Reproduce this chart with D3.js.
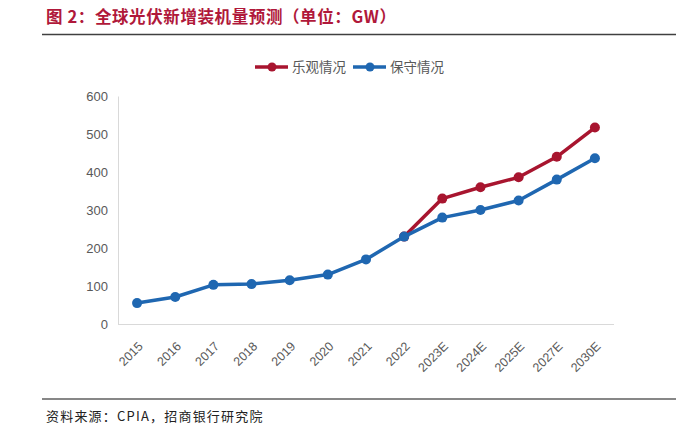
<!DOCTYPE html>
<html>
<head>
<meta charset="utf-8">
<script src="https://cdn.jsdelivr.net/npm/d3@7"></script>
<style>
  body { margin: 0; background: #fff; }
  svg { display: block; font-family: "Liberation Sans", Arial, sans-serif; }
</style>
</head>
<body>
<div id="chart"></div>
<script>
var w = 678;
var h = 430;

// chart data
var years = ['2015', '2016', '2017', '2018', '2019', '2020', '2021', '2022',
  '2023E', '2024E', '2025E', '2027E', '2030E'];
var conservative = [55, 71, 103, 105, 115, 130, 170, 230, 280, 300, 325, 380, 436];
var optimistic = [null, null, null, null, null, null, null, 230, 330, 360, 386, 440, 517];
var yTicks = [0, 100, 200, 300, 400, 500, 600];
var seriesNames = ['乐观情况', '保守情况'];

var red = '#a8152f';
var blue = '#1f67b1';
var cjk = '"Noto Sans CJK SC", "Noto Sans", sans-serif';

var svg = d3.select('#chart')
  .append('svg')
    .attr('width', w)
    .attr('height', h);

// title + rules
svg.append('text')
  .attr('x', 46)
  .attr('y', 23)
  .style('font-family', cjk)
  .style('font-size', '16.5px')
  .style('font-weight', 'bold')
  .style('letter-spacing', '0.6px')
  .style('fill', '#b0183a')
  .text('图 2：全球光伏新增装机量预测（单位：GW）');

svg.append('line')
  .attr('x1', 42).attr('x2', 676)
  .attr('y1', 34.5).attr('y2', 34.5)
  .style('stroke', '#404040')
  .style('stroke-width', 1.5);

svg.append('line')
  .attr('x1', 42).attr('x2', 676)
  .attr('y1', 399).attr('y2', 399)
  .style('stroke', '#111')
  .style('stroke-width', 1.2);

svg.append('text')
  .attr('x', 46)
  .attr('y', 421)
  .style('font-family', cjk)
  .style('font-size', '13px')
  .style('letter-spacing', '1.2px')
  .style('fill', '#222')
  .text('资料来源：CPIA，招商银行研究院');

// scales
var x = d3.scalePoint()
  .domain(years)
  .range([118, 614])
  .padding(0.5);

var y = d3.scaleLinear()
  .domain([0, 600])
  .range([324, 96]);

var plot = svg.append('g');

// axes
var yAxis = plot.append('g')
  .attr('transform', 'translate(118,0)')
  .call(d3.axisLeft(y).tickValues(yTicks).tickSize(0).tickPadding(10));
yAxis.select('.domain').style('stroke', '#d9d9d9');
yAxis.selectAll('text')
  .style('font-size', '13px')
  .style('fill', '#595959');

var xAxis = plot.append('g')
  .attr('transform', 'translate(0,324)')
  .call(d3.axisBottom(x).tickSize(0).tickPadding(0));
xAxis.select('.domain').style('stroke', '#d9d9d9').attr('d', 'M118,0.5H614');
xAxis.selectAll('text')
  .attr('x', 0)
  .attr('y', 0)
  .attr('dy', '0.35em')
  .attr('text-anchor', 'end')
  .attr('transform', 'translate(3,20) rotate(-45)')
  .style('font-size', '12.5px')
  .style('fill', '#595959');

// lines
var line = d3.line()
  .defined(function(d) { return d != null; })
  .x(function(d, i) { return x(years[i]); })
  .y(function(d) { return y(d); });

function drawSeries(vals, color) {
  plot.append('path')
    .datum(vals)
    .attr('d', line)
    .style('fill', 'none')
    .style('stroke', color)
    .style('stroke-width', 3.5)
    .style('stroke-linejoin', 'round');
  plot.selectAll(null)
    .data(vals.map(function(v, i) { return { v: v, i: i }; })
      .filter(function(d) { return d.v != null; }))
    .enter()
    .append('circle')
      .attr('cx', function(d) { return x(years[d.i]); })
      .attr('cy', function(d) { return y(d.v); })
      .attr('r', 5)
      .style('fill', color);
}

drawSeries(optimistic, red);
drawSeries(conservative, blue);

// legend
var legend = svg.append('g').attr('transform', 'translate(0,67)');
var legendItems = [
  { name: seriesNames[0], color: red, x: 255 },
  { name: seriesNames[1], color: blue, x: 353 }
];
legendItems.forEach(function(it) {
  legend.append('line')
    .attr('x1', it.x).attr('x2', it.x + 33)
    .attr('y1', 0).attr('y2', 0)
    .style('stroke', it.color)
    .style('stroke-width', 3.5);
  legend.append('circle')
    .attr('cx', it.x + 17).attr('cy', 0).attr('r', 4.5)
    .style('fill', it.color);
  legend.append('text')
    .attr('x', it.x + 37)
    .attr('y', 5)
    .style('font-family', cjk)
    .style('font-size', '13.5px')
    .style('fill', '#595959')
    .text(it.name);
});
</script>
</body>
</html>
